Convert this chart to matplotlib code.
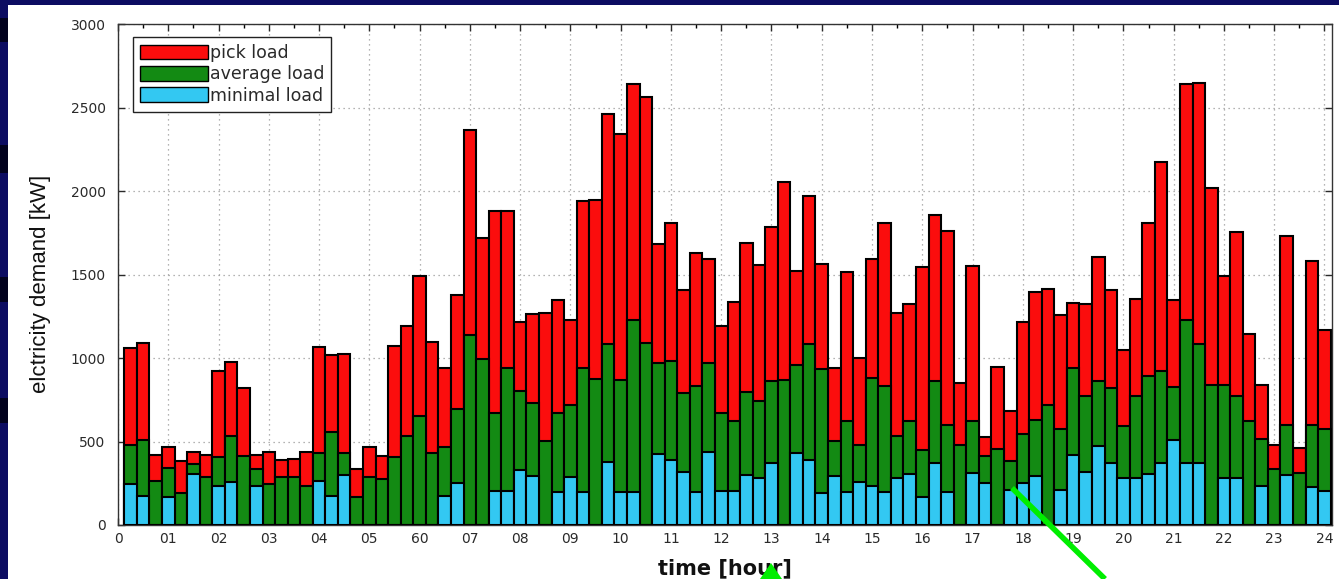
import numpy as np
import matplotlib
matplotlib.use("Agg")
import matplotlib.pyplot as plt
from matplotlib.patches import Rectangle, Polygon, Patch
from matplotlib.lines import Line2D

# ---- data (kW), one value per 15-minute interval ----
peak_load = [1060, 1090, 420, 465, 386, 440, 420, 921, 977, 821, 420, 435, 390, 395, 435, 1066,
             1015, 1025, 336, 470, 414, 1071, 1192, 1492, 1096, 941, 1378, 2364, 1718, 1883, 1883, 1216,
             1266, 1272, 1346, 1226, 1939, 1947, 2460, 2340, 2638, 2564, 1683, 1809, 1406, 1626, 1592, 1192,
             1336, 1689, 1556, 1783, 2053, 1518, 1973, 1562, 941, 1512, 1001, 1592, 1809, 1272, 1326, 1542,
             1857, 1763, 851, 1552, 527, 945, 681, 1218, 1398, 1412, 1256, 1332, 1322, 1606, 1406, 1046,
             1356, 1809, 2173, 1346, 2638, 2648, 2017, 1492, 1753, 1146, 841, 481, 1733, 461, 1578, 1168]
average_load = [480, 507, 264, 340, 190, 364, 286, 405, 531, 411, 336, 244, 286, 286, 236, 430,
                559, 430, 166, 290, 274, 410, 531, 651, 430, 465, 695, 1136, 995, 671, 941, 801,
                728, 501, 671, 717, 941, 875, 1082, 871, 1228, 1092, 971, 985, 791, 835, 971, 671,
                625, 795, 741, 861, 867, 961, 1082, 937, 501, 625, 481, 881, 835, 535, 625, 451,
                861, 601, 481, 621, 415, 457, 381, 547, 627, 721, 575, 941, 771, 861, 821, 595,
                775, 895, 921, 825, 1228, 1082, 841, 841, 771, 621, 515, 335, 601, 310, 601, 575]
minimal_load = [246, 176, 0, 170, 0, 304, 0, 236, 256, 0, 236, 0, 0, 0, 0, 264,
                174, 300, 0, 0, 0, 0, 0, 0, 0, 174, 250, 0, 0, 206, 206, 330,
                294, 0, 200, 286, 200, 0, 375, 200, 200, 0, 425, 391, 320, 200, 435, 206,
                206, 300, 280, 371, 0, 431, 391, 190, 294, 200, 260, 236, 200, 284, 304, 170,
                371, 200, 0, 310, 250, 0, 210, 250, 294, 0, 210, 421, 320, 475, 371, 284,
                280, 306, 371, 507, 371, 371, 0, 280, 280, 0, 234, 0, 300, 0, 230, 206]

hour_labels = ['0', '01', '02', '03', '04', '05', '60', '07', '08', '09', '10', '11', '12',
               '13', '14', '15', '16', '17', '18', '19', '20', '21', '22', '23', '24']
y_ticks = [0, 500, 1000, 1500, 2000, 2500, 3000]
series_names = ['pick load', 'average load', 'minimal load']

# ---- style ----
RED = '#fb0d0d'
GREEN = '#138a13'
CYAN = '#33c8f2'
W, H = 1339, 579

fig = plt.figure(figsize=(W / 100, H / 100), dpi=100, facecolor='white')

# slide frame (navy) at top and left
fig.patches.append(Rectangle((0, 1 - 5 / H), 1, 5 / H, transform=fig.transFigure,
                             facecolor='#0c0c62', edgecolor='none', zorder=0))
fig.patches.append(Rectangle((0, 0), 8 / W, 1, transform=fig.transFigure,
                             facecolor='#0c0c62', edgecolor='none', zorder=0))
for y0, y1 in [(18, 42), (145, 173), (277, 302), (398, 423)]:
    fig.patches.append(Rectangle((0, 1 - y1 / H), 8 / W, (y1 - y0) / H, transform=fig.transFigure,
                                 facecolor='#02021e', edgecolor='none', zorder=0))

ax = fig.add_axes([118 / W, 1 - 525 / H, (1332 - 118) / W, (525 - 24) / H])

n = len(peak_load)
x = np.arange(1, n + 1) * 0.25

ax.bar(x, peak_load, width=0.25, color=RED, edgecolor='black', linewidth=1.5, zorder=2)
ax.bar(x, average_load, width=0.25, color=GREEN, edgecolor='black', linewidth=1.5, zorder=3)
ax.bar(x, minimal_load, width=0.25, color=CYAN, edgecolor='black', linewidth=1.5, zorder=4)

ax.set_xlim(0, 24.15)
ax.set_ylim(0, 3000)
ax.set_xticks(np.arange(len(hour_labels)))
ax.set_xticklabels(hour_labels)
ax.set_xticks(np.arange(0.5, 24, 1), minor=True)
ax.set_yticks(y_ticks)
ax.set_yticklabels([str(v) for v in y_ticks])

ax.tick_params(axis='both', which='major', direction='in', top=True, right=True,
               length=5, width=1.0, labelsize=10, colors='#2a2a2a')
ax.tick_params(axis='x', which='minor', direction='in', top=True, bottom=True, length=3, width=1.0)
ax.tick_params(axis='x', which='major', pad=5)
ax.tick_params(axis='y', which='major', pad=9)
for lab in ax.get_xticklabels() + ax.get_yticklabels():
    lab.set_fontfamily('DejaVu Sans')

ax.set_axisbelow(True)
ax.grid(True, which='major', linestyle=(0, (1, 3)), color='#9a9a9a', linewidth=0.9)
for s in ax.spines.values():
    s.set_color('#333333')
    s.set_linewidth(1.0)

ax.set_ylabel('elctricity demand [kW]', fontsize=16, family='Liberation Sans',
              color='#111111')
ax.yaxis.set_label_coords(-0.055, 0.481)
ax.set_xlabel('time [hour]', fontsize=15, family='DejaVu Sans', fontweight='bold',
              labelpad=9, color='#111111')

handles = [Patch(facecolor=RED, edgecolor='black', linewidth=1.0),
           Patch(facecolor=GREEN, edgecolor='black', linewidth=1.0),
           Patch(facecolor=CYAN, edgecolor='black', linewidth=1.0)]
leg = ax.legend(handles, series_names, loc='upper left', bbox_to_anchor=(0.0124, 0.974),
                borderaxespad=0, fancybox=False, framealpha=1, edgecolor='#222222',
                prop={'family': 'DejaVu Sans', 'size': 12.5}, handlelength=3.9, handleheight=0.95,
                handletextpad=0.12, labelspacing=0.2, borderpad=0.4)
leg.get_frame().set_linewidth(1.0)
for t in leg.get_texts():
    t.set_color('#2a2a2a')
leg.set_zorder(10)

# green slide arrows
fig.add_artist(Line2D([1012 / W, 1105 / W], [1 - 488 / H, 1 - 579 / H], transform=fig.transFigure,
                      color='#00ee00', linewidth=4, solid_capstyle='butt', zorder=20))
fig.add_artist(Polygon([(771 / W, 1 - 563 / H), (760 / W, 0), (782 / W, 0)], closed=True,
                       transform=fig.transFigure, facecolor='#00ee00', edgecolor='none', zorder=20))

fig.savefig('out.png', dpi=100, facecolor='white')
